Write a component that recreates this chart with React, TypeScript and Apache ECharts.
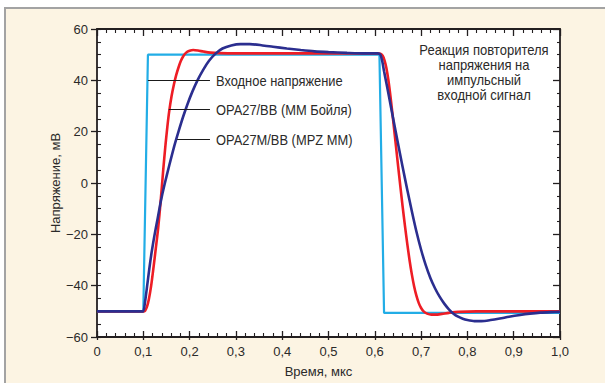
import React, { useEffect, useRef } from "react";
import * as echarts from "echarts";

// Input pulse (mV vs µs)
const timeInput = [0, 0.1, 0.11, 0.61, 0.62, 1.0];
const voltInput = [-50, -50, 50, 50, -50.6, -50.6];

// OPA27/BB (MM Бойля)
const timeBoyle = [
  0, 0.09, 0.097, 0.1, 0.104, 0.108, 0.112, 0.117, 0.122, 0.127, 0.132, 0.138, 0.143, 0.148, 0.152,
  0.156, 0.161, 0.166, 0.171, 0.176, 0.181, 0.186, 0.192, 0.2, 0.208, 0.218, 0.23, 0.245, 0.265, 0.3,
  0.5, 0.6, 0.606, 0.612, 0.617, 0.621, 0.625, 0.629, 0.633, 0.637, 0.641, 0.645, 0.65, 0.655, 0.66,
  0.665, 0.67, 0.675, 0.68, 0.685, 0.69, 0.695, 0.7, 0.706, 0.713, 0.722, 0.732, 0.745, 0.76, 0.78,
  0.82, 0.9, 1.0,
];
const voltBoyle = [
  -50, -50, -50, -50, -49.7, -48.2, -45.3, -40, -33, -25.5, -17.8, -6, 5, 15, 22,
  28, 33.8, 38.3, 42, 45, 47.5, 49.3, 50.7, 51.5, 51.8, 51.6, 51.2, 50.8, 50.6, 50.5,
  50.5, 50.5, 50.5, 50.4, 49.6, 47.8, 44.8, 40.5, 35, 28.8, 22.2, 15.5, 7.2, -1, -9,
  -16.5, -23.5, -30, -35.6, -40.3, -44, -46.8, -48.7, -50.1, -50.9, -51.3, -51.3, -51, -50.6, -50.2,
  -50, -50, -50,
];

// OPA27M/BB (MPZ MM)
const timeMPZ = [
  0, 0.09, 0.097, 0.1, 0.104, 0.108, 0.113, 0.118, 0.124, 0.131, 0.138, 0.146, 0.156, 0.166, 0.176,
  0.186, 0.196, 0.206, 0.217, 0.229, 0.242, 0.256, 0.271, 0.29, 0.31, 0.33, 0.355, 0.38, 0.41, 0.44,
  0.47, 0.5, 0.54, 0.58, 0.6, 0.606, 0.612, 0.616, 0.62, 0.625, 0.63, 0.64, 0.65, 0.66, 0.67,
  0.68, 0.69, 0.7, 0.71, 0.72, 0.73, 0.74, 0.75, 0.76, 0.77, 0.78, 0.79, 0.8, 0.815, 0.83,
  0.85, 0.87, 0.89, 0.914, 0.935, 0.957, 0.98, 1.0,
];
const voltMPZ = [
  -50, -50, -50, -50, -46, -40.5, -33.4, -27, -20.5, -13.8, -7, -0.5, 6.8, 13.8, 20,
  25.8, 31, 35.6, 40, 44, 47.6, 50.4, 52.4, 53.6, 54.1, 54.1, 53.7, 53.1, 52.4, 51.8,
  51.3, 51, 50.7, 50.5, 50.5, 50.5, 50, 47.5, 43.5, 39, 34.3, 24.8, 15.5, 6.3, -2.5,
  -11, -19, -26, -32, -37, -41, -44.3, -47, -49.2, -50.9, -52.1, -52.9, -53.4, -53.8, -53.8,
  -53.4, -52.8, -52.1, -51.4, -50.9, -50.5, -50.3, -50.2,
];

const xTicks = [0, 0.1, 0.2, 0.3, 0.4, 0.5, 0.6, 0.7, 0.8, 0.9, 1.0];
const xTickLabels = ["0", "0,1", "0,2", "0,3", "0,4", "0,5", "0,6", "0,7", "0,8", "0,9", "1,0"];
const yTicks = [-60, -40, -20, 0, 20, 40, 60];
const yTickLabels = ["−60", "−40", "−20", "0", "20", "40", "60"];

const seriesNames = ["Входное напряжение", "OPA27/BB (MM Бойля)", "OPA27M/BB (MPZ MM)"];
const calloutY = [40, 28.8, 17.1];
const calloutXStart = [0.11, 0.155, 0.173];
const calloutXEnd = 0.244;
const noteLines = ["Реакция повторителя", "напряжения на", "импульсный", "входной сигнал"];

const xAxisTitle = "Время, мкс";
const yAxisTitle = "Напряжение, мВ";

const FONT = "'Liberation Sans', Arial, sans-serif";
const INK = "#2b2a29";
const AXIS = "#231f20";

const lookup = (ticks: number[], labels: string[], v: number) => {
  const i = ticks.findIndex((t) => Math.abs(t - v) < 1e-6);
  return i >= 0 ? labels[i] : "";
};

const zip = (xs: number[], ys: number[]) => xs.map((x, i) => [x, ys[i]]);

export default function App() {
  const ref = useRef<HTMLDivElement>(null);

  useEffect(() => {
    if (!ref.current) return;
    const chart = echarts.init(ref.current, undefined, { renderer: "svg" });
    const gridRect = { left: 97, right: 45, top: 29, bottom: 46 };
    const colors = ["#22ade6", "#ee1d25", "#2b2e8f"];
    const widths = [2.2, 2.6, 2.6];
    const datasets = [zip(timeInput, voltInput), zip(timeBoyle, voltBoyle), zip(timeMPZ, voltMPZ)];

    const option: any = {
      animation: false,
      textStyle: { fontFamily: FONT },
      grid: [
        { ...gridRect, show: true, backgroundColor: "#ffffff", borderWidth: 0 },
        { ...gridRect, show: false },
      ],
      xAxis: [
        {
          type: "value",
          gridIndex: 0,
          position: "bottom",
          min: 0,
          max: 1,
          interval: 0.1,
          axisLine: { show: true, onZero: false, lineStyle: { color: AXIS, width: 1.8 } },
          axisTick: { show: true, inside: false, length: 3, lineStyle: { color: AXIS, width: 1.3 } },
          axisLabel: {
            show: true,
            margin: 8,
            color: INK,
            fontSize: 13,
            fontFamily: FONT,
            formatter: (v: number) => lookup(xTicks, xTickLabels, v),
          },
          splitLine: { show: false },
          name: xAxisTitle,
          nameLocation: "middle",
          nameGap: 28,
          nameTextStyle: { color: INK, fontSize: 13, fontFamily: FONT, padding: [0, 20, 0, 0] },
        },
        {
          type: "value",
          gridIndex: 0,
          position: "top",
          min: 0,
          max: 1,
          interval: 0.1,
          axisLine: { show: true, onZero: false, lineStyle: { color: AXIS, width: 1.8 } },
          axisTick: { show: true, inside: true, length: 7, lineStyle: { color: AXIS, width: 1.3 } },
          minorTick: { show: true, splitNumber: 5, length: 4, lineStyle: { color: AXIS, width: 1.1 } },
          axisLabel: { show: false },
          splitLine: { show: false },
        },
        {
          type: "value",
          gridIndex: 1,
          position: "bottom",
          min: 0,
          max: 1,
          interval: 0.1,
          axisLine: { show: false, onZero: false },
          axisTick: { show: true, inside: true, length: 6, lineStyle: { color: AXIS, width: 1.3 } },
          minorTick: { show: true, splitNumber: 5, length: 4, lineStyle: { color: AXIS, width: 1.1 } },
          axisLabel: { show: false },
          splitLine: { show: false },
        },
      ],
      yAxis: [
        {
          type: "value",
          gridIndex: 0,
          position: "left",
          min: -60,
          max: 60,
          interval: 20,
          axisLine: { show: true, onZero: false, lineStyle: { color: AXIS, width: 1.8 } },
          axisTick: { show: true, inside: false, length: 6, lineStyle: { color: AXIS, width: 1.3 } },
          axisLabel: {
            show: true,
            margin: 9,
            color: INK,
            fontSize: 13,
            fontFamily: FONT,
            formatter: (v: number) => lookup(yTicks, yTickLabels, v),
          },
          splitLine: { show: false },
          name: yAxisTitle,
          nameLocation: "middle",
          nameGap: 35,
          nameMoveOverlap: false,
          nameRotate: 90,
          nameTextStyle: { color: INK, fontSize: 13, fontFamily: FONT },
        },
        {
          type: "value",
          gridIndex: 0,
          position: "right",
          min: -60,
          max: 60,
          interval: 20,
          axisLine: { show: true, onZero: false, lineStyle: { color: AXIS, width: 1.8 } },
          axisTick: { show: true, inside: true, length: 7, lineStyle: { color: AXIS, width: 1.3 } },
          minorTick: { show: true, splitNumber: 4, length: 3, lineStyle: { color: AXIS, width: 1.1 } },
          axisLabel: { show: false },
          splitLine: { show: false },
        },
        {
          type: "value",
          gridIndex: 1,
          position: "left",
          min: -60,
          max: 60,
          interval: 5,
          axisLine: { show: false, onZero: false },
          axisTick: { show: true, inside: true, length: 4, lineStyle: { color: AXIS, width: 1.1 } },
          axisLabel: { show: false },
          splitLine: { show: false },
        },
      ],
      series: datasets.map((data, i) => ({
        type: "line",
        name: seriesNames[i],
        xAxisIndex: 0,
        yAxisIndex: 0,
        data,
        showSymbol: false,
        symbol: "none",
        smooth: i === 0 ? false : 0.25,
        z: 2 + i,
        lineStyle: { color: colors[i], width: widths[i] },
        markLine: {
          silent: true,
          symbol: ["none", "none"],
          animation: false,
          lineStyle: { color: "#1a1a1a", width: 1.2, type: "solid" },
          label: { show: false },
          data: [
            [
              { coord: [calloutXStart[i], calloutY[i]] },
              { coord: [calloutXEnd, calloutY[i]] },
            ],
          ],
        },
      })),
    };

    chart.setOption(option);

    // Callout labels placed at the end of each callout line (data -> pixel via the chart's own scales)
    const graphics: any[] = seriesNames.map((name, i) => {
      const p = chart.convertToPixel({ gridIndex: 0 }, [calloutXEnd, calloutY[i]]) as number[];
      return {
        type: "text",
        id: "callout" + i,
        x: p[0] + 6,
        y: p[1] + 0.5,
        scaleX: 0.86,
        style: {
          text: name,
          fill: INK,
          fontSize: 15,
          fontFamily: FONT,
          align: "left",
          verticalAlign: "middle",
        },
      };
    });
    noteLines.forEach((line, i) => {
      graphics.push({
        type: "text",
        id: "note" + i,
        x: 484,
        y: 50 + i * 15,
        scaleX: 0.93,
        style: {
          text: line,
          fill: INK,
          fontSize: 14,
          fontFamily: FONT,
          align: "center",
          verticalAlign: "middle",
        },
      });
    });
    chart.setOption({ graphic: graphics });

    return () => chart.dispose();
  }, []);

  return (
    <div style={{ position: "absolute", left: 0, top: 0, width: 605, height: 383, background: "#ffffff", overflow: "hidden" }}>
      <div
        style={{
          position: "absolute",
          left: 4,
          top: 7,
          right: 0,
          bottom: 0,
          borderTop: "2px solid #a3a3a3",
          borderLeft: "2px solid #a3a3a3",
          background: "#fcf4e3",
        }}
      />
      <div ref={ref} style={{ position: "absolute", left: 0, top: 0, width: 605, height: 383 }} />
    </div>
  );
}
